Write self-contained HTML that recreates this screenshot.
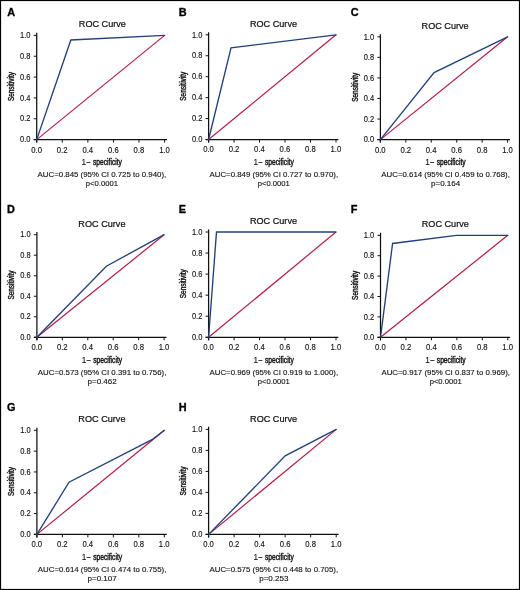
<!DOCTYPE html>
<html><head><meta charset="utf-8"><style>
html,body{margin:0;padding:0;background:#fff;}
svg{display:block;filter:blur(0.25px);}
text{font-family:"Liberation Sans", sans-serif;stroke:#111;stroke-width:0.12px;}
</style></head><body>
<svg width="520" height="590" viewBox="0 0 520 590">
<rect x="0" y="0" width="520" height="590" fill="#fff"/>
<rect x="0.5" y="0.5" width="519" height="589" fill="none" stroke="#000" stroke-width="1.2"/>
<text transform="translate(7.2 16.4) scale(1.05 1.0)" font-size="10.4" font-weight="bold" style="stroke:#000;stroke-width:0.3px" fill="#000">A</text>
<text transform="translate(102.35 27.15) scale(1 1.075)" font-size="9.2" style="stroke-width:0.22px" text-anchor="middle" textLength="47.1" lengthAdjust="spacingAndGlyphs" fill="#111">ROC Curve</text>
<path d="M36.7 32.8V142.6M33.7 139.6H167" stroke="#111" stroke-width="1.25" fill="none"/>
<path d="M33.7 139.6H36.7M36.7 139.6V142.6M33.7 118.76H36.7M62.28 139.6V142.6M33.7 97.92H36.7M87.86 139.6V142.6M33.7 77.08H36.7M113.44 139.6V142.6M33.7 56.24H36.7M139.02 139.6V142.6M33.7 35.4H36.7M164.6 139.6V142.6" stroke="#111" stroke-width="1" fill="none"/>
<text transform="translate(30.4 142.3) scale(1 1.1)" font-size="7.5" text-anchor="end" fill="#111">0.0</text>
<text transform="translate(36.6 152.5) scale(1 1.1)" font-size="7.7" text-anchor="middle" fill="#111">0.0</text>
<text transform="translate(30.4 121.46) scale(1 1.1)" font-size="7.5" text-anchor="end" fill="#111">0.2</text>
<text transform="translate(62.18 152.5) scale(1 1.1)" font-size="7.7" text-anchor="middle" fill="#111">0.2</text>
<text transform="translate(30.4 100.62) scale(1 1.1)" font-size="7.5" text-anchor="end" fill="#111">0.4</text>
<text transform="translate(87.76 152.5) scale(1 1.1)" font-size="7.7" text-anchor="middle" fill="#111">0.4</text>
<text transform="translate(30.4 79.78) scale(1 1.1)" font-size="7.5" text-anchor="end" fill="#111">0.6</text>
<text transform="translate(113.34 152.5) scale(1 1.1)" font-size="7.7" text-anchor="middle" fill="#111">0.6</text>
<text transform="translate(30.4 58.94) scale(1 1.1)" font-size="7.5" text-anchor="end" fill="#111">0.8</text>
<text transform="translate(138.92 152.5) scale(1 1.1)" font-size="7.7" text-anchor="middle" fill="#111">0.8</text>
<text transform="translate(30.4 38.1) scale(1 1.1)" font-size="7.5" text-anchor="end" fill="#111">1.0</text>
<text transform="translate(164.5 152.5) scale(1 1.1)" font-size="7.7" text-anchor="middle" fill="#111">1.0</text>
<text transform="translate(81.5 165) scale(1 1.075)" font-size="8.2" fill="#111">1</text>
<text transform="translate(86.6 165) scale(1 1.075)" font-size="8.2" textLength="3.8" lengthAdjust="spacingAndGlyphs" fill="#111">–</text>
<text transform="translate(93 165) scale(1 1.075)" font-size="8.2" style="stroke-width:0.4px" textLength="28.9" lengthAdjust="spacingAndGlyphs" fill="#111">specificity</text>
<text transform="translate(14.2 86.6) rotate(-90)" font-size="8.2" style="stroke-width:0.4px" text-anchor="middle" textLength="29" lengthAdjust="spacingAndGlyphs" fill="#111">Sensitivity</text>
<path d="M36.7 139.6L164.6 35.4" stroke="#b41c44" stroke-width="1.2" fill="none"/>
<path d="M36.7 139.6L70.85 39.98L164.6 35.4" stroke="#23417a" stroke-width="1.35" fill="none" stroke-linecap="round"/>
<text transform="translate(101.9 176.8) scale(1 1.075)" font-size="7.5" text-anchor="middle" textLength="128.6" lengthAdjust="spacingAndGlyphs" fill="#111">AUC=0.845 (95% CI 0.725 to 0.940),</text>
<text transform="translate(101.9 186.1) scale(1 1.075)" font-size="7.5" text-anchor="middle" textLength="32.1" lengthAdjust="spacingAndGlyphs" fill="#111">p&lt;0.0001</text>
<text transform="translate(178.8 16.4) scale(1.05 1.0)" font-size="10.4" font-weight="bold" style="stroke:#000;stroke-width:0.3px" fill="#000">B</text>
<text transform="translate(273.45 27) scale(1 1.075)" font-size="9.2" style="stroke-width:0.22px" text-anchor="middle" textLength="47.1" lengthAdjust="spacingAndGlyphs" fill="#111">ROC Curve</text>
<path d="M208.6 32.2V142.5M205.6 139.5H338.4" stroke="#111" stroke-width="1.25" fill="none"/>
<path d="M205.6 139.5H208.6M208.6 139.5V142.5M205.6 118.56H208.6M234.08 139.5V142.5M205.6 97.62H208.6M259.56 139.5V142.5M205.6 76.68H208.6M285.04 139.5V142.5M205.6 55.74H208.6M310.52 139.5V142.5M205.6 34.8H208.6M336 139.5V142.5" stroke="#111" stroke-width="1" fill="none"/>
<text transform="translate(202.3 142.2) scale(1 1.1)" font-size="7.5" text-anchor="end" fill="#111">0.0</text>
<text transform="translate(208.5 152.4) scale(1 1.1)" font-size="7.7" text-anchor="middle" fill="#111">0.0</text>
<text transform="translate(202.3 121.26) scale(1 1.1)" font-size="7.5" text-anchor="end" fill="#111">0.2</text>
<text transform="translate(233.98 152.4) scale(1 1.1)" font-size="7.7" text-anchor="middle" fill="#111">0.2</text>
<text transform="translate(202.3 100.32) scale(1 1.1)" font-size="7.5" text-anchor="end" fill="#111">0.4</text>
<text transform="translate(259.46 152.4) scale(1 1.1)" font-size="7.7" text-anchor="middle" fill="#111">0.4</text>
<text transform="translate(202.3 79.38) scale(1 1.1)" font-size="7.5" text-anchor="end" fill="#111">0.6</text>
<text transform="translate(284.94 152.4) scale(1 1.1)" font-size="7.7" text-anchor="middle" fill="#111">0.6</text>
<text transform="translate(202.3 58.44) scale(1 1.1)" font-size="7.5" text-anchor="end" fill="#111">0.8</text>
<text transform="translate(310.42 152.4) scale(1 1.1)" font-size="7.7" text-anchor="middle" fill="#111">0.8</text>
<text transform="translate(202.3 37.5) scale(1 1.1)" font-size="7.5" text-anchor="end" fill="#111">1.0</text>
<text transform="translate(335.9 152.4) scale(1 1.1)" font-size="7.7" text-anchor="middle" fill="#111">1.0</text>
<text transform="translate(253.4 164.9) scale(1 1.075)" font-size="8.2" fill="#111">1</text>
<text transform="translate(258.5 164.9) scale(1 1.075)" font-size="8.2" textLength="3.8" lengthAdjust="spacingAndGlyphs" fill="#111">–</text>
<text transform="translate(264.9 164.9) scale(1 1.075)" font-size="8.2" style="stroke-width:0.4px" textLength="28.9" lengthAdjust="spacingAndGlyphs" fill="#111">specificity</text>
<text transform="translate(186.1 86.25) rotate(-90)" font-size="8.2" style="stroke-width:0.4px" text-anchor="middle" textLength="29" lengthAdjust="spacingAndGlyphs" fill="#111">Sensitivity</text>
<path d="M208.6 139.5L336 34.8" stroke="#b41c44" stroke-width="1.2" fill="none"/>
<path d="M208.6 139.5L231.02 47.78L336 34.8" stroke="#23417a" stroke-width="1.35" fill="none" stroke-linecap="round"/>
<text transform="translate(273.8 176.7) scale(1 1.075)" font-size="7.5" text-anchor="middle" textLength="128.6" lengthAdjust="spacingAndGlyphs" fill="#111">AUC=0.849 (95% CI 0.727 to 0.970),</text>
<text transform="translate(273.8 186) scale(1 1.075)" font-size="7.5" text-anchor="middle" textLength="32.1" lengthAdjust="spacingAndGlyphs" fill="#111">p&lt;0.0001</text>
<text transform="translate(350.8 16.4) scale(1.05 1.0)" font-size="10.4" font-weight="bold" style="stroke:#000;stroke-width:0.3px" fill="#000">C</text>
<text transform="translate(445.1 28.5) scale(1 1.075)" font-size="9.2" style="stroke-width:0.22px" text-anchor="middle" textLength="47.1" lengthAdjust="spacingAndGlyphs" fill="#111">ROC Curve</text>
<path d="M380.4 34.2V142.6M377.4 139.6H510" stroke="#111" stroke-width="1.25" fill="none"/>
<path d="M377.4 139.6H380.4M380.4 139.6V142.6M377.4 119.04H380.4M405.84 139.6V142.6M377.4 98.48H380.4M431.28 139.6V142.6M377.4 77.92H380.4M456.72 139.6V142.6M377.4 57.36H380.4M482.16 139.6V142.6M377.4 36.8H380.4M507.6 139.6V142.6" stroke="#111" stroke-width="1" fill="none"/>
<text transform="translate(374.1 142.3) scale(1 1.1)" font-size="7.5" text-anchor="end" fill="#111">0.0</text>
<text transform="translate(380.3 152.5) scale(1 1.1)" font-size="7.7" text-anchor="middle" fill="#111">0.0</text>
<text transform="translate(374.1 121.74) scale(1 1.1)" font-size="7.5" text-anchor="end" fill="#111">0.2</text>
<text transform="translate(405.74 152.5) scale(1 1.1)" font-size="7.7" text-anchor="middle" fill="#111">0.2</text>
<text transform="translate(374.1 101.18) scale(1 1.1)" font-size="7.5" text-anchor="end" fill="#111">0.4</text>
<text transform="translate(431.18 152.5) scale(1 1.1)" font-size="7.7" text-anchor="middle" fill="#111">0.4</text>
<text transform="translate(374.1 80.62) scale(1 1.1)" font-size="7.5" text-anchor="end" fill="#111">0.6</text>
<text transform="translate(456.62 152.5) scale(1 1.1)" font-size="7.7" text-anchor="middle" fill="#111">0.6</text>
<text transform="translate(374.1 60.06) scale(1 1.1)" font-size="7.5" text-anchor="end" fill="#111">0.8</text>
<text transform="translate(482.06 152.5) scale(1 1.1)" font-size="7.7" text-anchor="middle" fill="#111">0.8</text>
<text transform="translate(374.1 39.5) scale(1 1.1)" font-size="7.5" text-anchor="end" fill="#111">1.0</text>
<text transform="translate(507.5 152.5) scale(1 1.1)" font-size="7.7" text-anchor="middle" fill="#111">1.0</text>
<text transform="translate(425.2 165) scale(1 1.075)" font-size="8.2" fill="#111">1</text>
<text transform="translate(430.3 165) scale(1 1.075)" font-size="8.2" textLength="3.8" lengthAdjust="spacingAndGlyphs" fill="#111">–</text>
<text transform="translate(436.7 165) scale(1 1.075)" font-size="8.2" style="stroke-width:0.4px" textLength="28.9" lengthAdjust="spacingAndGlyphs" fill="#111">specificity</text>
<text transform="translate(357.9 87.3) rotate(-90)" font-size="8.2" style="stroke-width:0.4px" text-anchor="middle" textLength="29" lengthAdjust="spacingAndGlyphs" fill="#111">Sensitivity</text>
<path d="M380.4 139.6L507.6 36.8" stroke="#b41c44" stroke-width="1.2" fill="none"/>
<path d="M380.4 139.6L434.08 72.57L507.6 36.8" stroke="#23417a" stroke-width="1.35" fill="none" stroke-linecap="round"/>
<text transform="translate(445.6 176.8) scale(1 1.075)" font-size="7.5" text-anchor="middle" textLength="128.6" lengthAdjust="spacingAndGlyphs" fill="#111">AUC=0.614 (95% CI 0.459 to 0.768),</text>
<text transform="translate(445.6 186.1) scale(1 1.075)" font-size="7.5" text-anchor="middle" textLength="29.2" lengthAdjust="spacingAndGlyphs" fill="#111">p=0.164</text>
<text transform="translate(7 213.2) scale(1.05 1.0)" font-size="10.4" font-weight="bold" style="stroke:#000;stroke-width:0.3px" fill="#000">D</text>
<text transform="translate(101.9 226.8) scale(1 1.075)" font-size="9.2" style="stroke-width:0.22px" text-anchor="middle" textLength="47.1" lengthAdjust="spacingAndGlyphs" fill="#111">ROC Curve</text>
<path d="M36.9 232.1V340.3M33.9 337.3H166.5" stroke="#111" stroke-width="1.25" fill="none"/>
<path d="M33.9 337.3H36.9M36.9 337.3V340.3M33.9 316.78H36.9M62.34 337.3V340.3M33.9 296.26H36.9M87.78 337.3V340.3M33.9 275.74H36.9M113.22 337.3V340.3M33.9 255.22H36.9M138.66 337.3V340.3M33.9 234.7H36.9M164.1 337.3V340.3" stroke="#111" stroke-width="1" fill="none"/>
<text transform="translate(30.6 340) scale(1 1.1)" font-size="7.5" text-anchor="end" fill="#111">0.0</text>
<text transform="translate(36.8 350.2) scale(1 1.1)" font-size="7.7" text-anchor="middle" fill="#111">0.0</text>
<text transform="translate(30.6 319.48) scale(1 1.1)" font-size="7.5" text-anchor="end" fill="#111">0.2</text>
<text transform="translate(62.24 350.2) scale(1 1.1)" font-size="7.7" text-anchor="middle" fill="#111">0.2</text>
<text transform="translate(30.6 298.96) scale(1 1.1)" font-size="7.5" text-anchor="end" fill="#111">0.4</text>
<text transform="translate(87.68 350.2) scale(1 1.1)" font-size="7.7" text-anchor="middle" fill="#111">0.4</text>
<text transform="translate(30.6 278.44) scale(1 1.1)" font-size="7.5" text-anchor="end" fill="#111">0.6</text>
<text transform="translate(113.12 350.2) scale(1 1.1)" font-size="7.7" text-anchor="middle" fill="#111">0.6</text>
<text transform="translate(30.6 257.92) scale(1 1.1)" font-size="7.5" text-anchor="end" fill="#111">0.8</text>
<text transform="translate(138.56 350.2) scale(1 1.1)" font-size="7.7" text-anchor="middle" fill="#111">0.8</text>
<text transform="translate(30.6 237.4) scale(1 1.1)" font-size="7.5" text-anchor="end" fill="#111">1.0</text>
<text transform="translate(164 350.2) scale(1 1.1)" font-size="7.7" text-anchor="middle" fill="#111">1.0</text>
<text transform="translate(81.7 362.7) scale(1 1.075)" font-size="8.2" fill="#111">1</text>
<text transform="translate(86.8 362.7) scale(1 1.075)" font-size="8.2" textLength="3.8" lengthAdjust="spacingAndGlyphs" fill="#111">–</text>
<text transform="translate(93.2 362.7) scale(1 1.075)" font-size="8.2" style="stroke-width:0.4px" textLength="28.9" lengthAdjust="spacingAndGlyphs" fill="#111">specificity</text>
<text transform="translate(14.4 285.1) rotate(-90)" font-size="8.2" style="stroke-width:0.4px" text-anchor="middle" textLength="29" lengthAdjust="spacingAndGlyphs" fill="#111">Sensitivity</text>
<path d="M36.9 337.3L164.1 234.7" stroke="#b41c44" stroke-width="1.2" fill="none"/>
<path d="M36.9 337.3L106.35 266.2L164.1 234.7" stroke="#23417a" stroke-width="1.35" fill="none" stroke-linecap="round"/>
<text transform="translate(102.1 374.5) scale(1 1.075)" font-size="7.5" text-anchor="middle" textLength="128.6" lengthAdjust="spacingAndGlyphs" fill="#111">AUC=0.573 (95% CI 0.391 to 0.756),</text>
<text transform="translate(102.1 383.8) scale(1 1.075)" font-size="7.5" text-anchor="middle" textLength="29.2" lengthAdjust="spacingAndGlyphs" fill="#111">p=0.462</text>
<text transform="translate(178.8 213.2) scale(1.05 1.0)" font-size="10.4" font-weight="bold" style="stroke:#000;stroke-width:0.3px" fill="#000">E</text>
<text transform="translate(273.45 223.6) scale(1 1.075)" font-size="9.2" style="stroke-width:0.22px" text-anchor="middle" textLength="47.1" lengthAdjust="spacingAndGlyphs" fill="#111">ROC Curve</text>
<path d="M208.6 229.4V340.3M205.6 337.3H338.4" stroke="#111" stroke-width="1.25" fill="none"/>
<path d="M205.6 337.3H208.6M208.6 337.3V340.3M205.6 316.24H208.6M234.08 337.3V340.3M205.6 295.18H208.6M259.56 337.3V340.3M205.6 274.12H208.6M285.04 337.3V340.3M205.6 253.06H208.6M310.52 337.3V340.3M205.6 232H208.6M336 337.3V340.3" stroke="#111" stroke-width="1" fill="none"/>
<text transform="translate(202.3 340) scale(1 1.1)" font-size="7.5" text-anchor="end" fill="#111">0.0</text>
<text transform="translate(208.5 350.2) scale(1 1.1)" font-size="7.7" text-anchor="middle" fill="#111">0.0</text>
<text transform="translate(202.3 318.94) scale(1 1.1)" font-size="7.5" text-anchor="end" fill="#111">0.2</text>
<text transform="translate(233.98 350.2) scale(1 1.1)" font-size="7.7" text-anchor="middle" fill="#111">0.2</text>
<text transform="translate(202.3 297.88) scale(1 1.1)" font-size="7.5" text-anchor="end" fill="#111">0.4</text>
<text transform="translate(259.46 350.2) scale(1 1.1)" font-size="7.7" text-anchor="middle" fill="#111">0.4</text>
<text transform="translate(202.3 276.82) scale(1 1.1)" font-size="7.5" text-anchor="end" fill="#111">0.6</text>
<text transform="translate(284.94 350.2) scale(1 1.1)" font-size="7.7" text-anchor="middle" fill="#111">0.6</text>
<text transform="translate(202.3 255.76) scale(1 1.1)" font-size="7.5" text-anchor="end" fill="#111">0.8</text>
<text transform="translate(310.42 350.2) scale(1 1.1)" font-size="7.7" text-anchor="middle" fill="#111">0.8</text>
<text transform="translate(202.3 234.7) scale(1 1.1)" font-size="7.5" text-anchor="end" fill="#111">1.0</text>
<text transform="translate(335.9 350.2) scale(1 1.1)" font-size="7.7" text-anchor="middle" fill="#111">1.0</text>
<text transform="translate(253.4 362.7) scale(1 1.075)" font-size="8.2" fill="#111">1</text>
<text transform="translate(258.5 362.7) scale(1 1.075)" font-size="8.2" textLength="3.8" lengthAdjust="spacingAndGlyphs" fill="#111">–</text>
<text transform="translate(264.9 362.7) scale(1 1.075)" font-size="8.2" style="stroke-width:0.4px" textLength="28.9" lengthAdjust="spacingAndGlyphs" fill="#111">specificity</text>
<text transform="translate(186.1 283.75) rotate(-90)" font-size="8.2" style="stroke-width:0.4px" text-anchor="middle" textLength="29" lengthAdjust="spacingAndGlyphs" fill="#111">Sensitivity</text>
<path d="M208.6 337.3L336 232" stroke="#b41c44" stroke-width="1.2" fill="none"/>
<path d="M208.6 337.3L216.5 232L336 232" stroke="#23417a" stroke-width="1.35" fill="none" stroke-linecap="round"/>
<text transform="translate(273.8 374.5) scale(1 1.075)" font-size="7.5" text-anchor="middle" textLength="128.6" lengthAdjust="spacingAndGlyphs" fill="#111">AUC=0.969 (95% CI 0.919 to 1.000),</text>
<text transform="translate(273.8 383.8) scale(1 1.075)" font-size="7.5" text-anchor="middle" textLength="32.1" lengthAdjust="spacingAndGlyphs" fill="#111">p&lt;0.0001</text>
<text transform="translate(350.7 213.2) scale(1.05 1.0)" font-size="10.4" font-weight="bold" style="stroke:#000;stroke-width:0.3px" fill="#000">F</text>
<text transform="translate(445.3 227) scale(1 1.075)" font-size="9.2" style="stroke-width:0.22px" text-anchor="middle" textLength="47.1" lengthAdjust="spacingAndGlyphs" fill="#111">ROC Curve</text>
<path d="M380.5 232.7V340.3M377.5 337.3H510.2" stroke="#111" stroke-width="1.25" fill="none"/>
<path d="M377.5 337.3H380.5M380.5 337.3V340.3M377.5 316.9H380.5M405.96 337.3V340.3M377.5 296.5H380.5M431.42 337.3V340.3M377.5 276.1H380.5M456.88 337.3V340.3M377.5 255.7H380.5M482.34 337.3V340.3M377.5 235.3H380.5M507.8 337.3V340.3" stroke="#111" stroke-width="1" fill="none"/>
<text transform="translate(374.2 340) scale(1 1.1)" font-size="7.5" text-anchor="end" fill="#111">0.0</text>
<text transform="translate(380.4 350.2) scale(1 1.1)" font-size="7.7" text-anchor="middle" fill="#111">0.0</text>
<text transform="translate(374.2 319.6) scale(1 1.1)" font-size="7.5" text-anchor="end" fill="#111">0.2</text>
<text transform="translate(405.86 350.2) scale(1 1.1)" font-size="7.7" text-anchor="middle" fill="#111">0.2</text>
<text transform="translate(374.2 299.2) scale(1 1.1)" font-size="7.5" text-anchor="end" fill="#111">0.4</text>
<text transform="translate(431.32 350.2) scale(1 1.1)" font-size="7.7" text-anchor="middle" fill="#111">0.4</text>
<text transform="translate(374.2 278.8) scale(1 1.1)" font-size="7.5" text-anchor="end" fill="#111">0.6</text>
<text transform="translate(456.78 350.2) scale(1 1.1)" font-size="7.7" text-anchor="middle" fill="#111">0.6</text>
<text transform="translate(374.2 258.4) scale(1 1.1)" font-size="7.5" text-anchor="end" fill="#111">0.8</text>
<text transform="translate(482.24 350.2) scale(1 1.1)" font-size="7.7" text-anchor="middle" fill="#111">0.8</text>
<text transform="translate(374.2 238) scale(1 1.1)" font-size="7.5" text-anchor="end" fill="#111">1.0</text>
<text transform="translate(507.7 350.2) scale(1 1.1)" font-size="7.7" text-anchor="middle" fill="#111">1.0</text>
<text transform="translate(425.3 362.7) scale(1 1.075)" font-size="8.2" fill="#111">1</text>
<text transform="translate(430.4 362.7) scale(1 1.075)" font-size="8.2" textLength="3.8" lengthAdjust="spacingAndGlyphs" fill="#111">–</text>
<text transform="translate(436.8 362.7) scale(1 1.075)" font-size="8.2" style="stroke-width:0.4px" textLength="28.9" lengthAdjust="spacingAndGlyphs" fill="#111">specificity</text>
<text transform="translate(358 285.4) rotate(-90)" font-size="8.2" style="stroke-width:0.4px" text-anchor="middle" textLength="29" lengthAdjust="spacingAndGlyphs" fill="#111">Sensitivity</text>
<path d="M380.5 337.3L507.8 235.3" stroke="#b41c44" stroke-width="1.2" fill="none"/>
<path d="M380.5 337.3L392.59 243.46L456.37 235.3L507.8 235.3" stroke="#23417a" stroke-width="1.35" fill="none" stroke-linecap="round"/>
<text transform="translate(445.7 374.5) scale(1 1.075)" font-size="7.5" text-anchor="middle" textLength="128.6" lengthAdjust="spacingAndGlyphs" fill="#111">AUC=0.917 (95% CI 0.837 to 0.969),</text>
<text transform="translate(445.7 383.8) scale(1 1.075)" font-size="7.5" text-anchor="middle" textLength="32.1" lengthAdjust="spacingAndGlyphs" fill="#111">p&lt;0.0001</text>
<text transform="translate(7.07 410.8) scale(1.05 1.0)" font-size="10.4" font-weight="bold" style="stroke:#000;stroke-width:0.3px" fill="#000">G</text>
<text transform="translate(101.9 422.1) scale(1 1.075)" font-size="9.2" style="stroke-width:0.22px" text-anchor="middle" textLength="47.1" lengthAdjust="spacingAndGlyphs" fill="#111">ROC Curve</text>
<path d="M36.9 427.7V537.4M33.9 534.4H166.7" stroke="#111" stroke-width="1.25" fill="none"/>
<path d="M33.9 534.4H36.9M36.9 534.4V537.4M33.9 513.58H36.9M62.38 534.4V537.4M33.9 492.76H36.9M87.86 534.4V537.4M33.9 471.94H36.9M113.34 534.4V537.4M33.9 451.12H36.9M138.82 534.4V537.4M33.9 430.3H36.9M164.3 534.4V537.4" stroke="#111" stroke-width="1" fill="none"/>
<text transform="translate(30.6 537.1) scale(1 1.1)" font-size="7.5" text-anchor="end" fill="#111">0.0</text>
<text transform="translate(36.8 547.3) scale(1 1.1)" font-size="7.7" text-anchor="middle" fill="#111">0.0</text>
<text transform="translate(30.6 516.28) scale(1 1.1)" font-size="7.5" text-anchor="end" fill="#111">0.2</text>
<text transform="translate(62.28 547.3) scale(1 1.1)" font-size="7.7" text-anchor="middle" fill="#111">0.2</text>
<text transform="translate(30.6 495.46) scale(1 1.1)" font-size="7.5" text-anchor="end" fill="#111">0.4</text>
<text transform="translate(87.76 547.3) scale(1 1.1)" font-size="7.7" text-anchor="middle" fill="#111">0.4</text>
<text transform="translate(30.6 474.64) scale(1 1.1)" font-size="7.5" text-anchor="end" fill="#111">0.6</text>
<text transform="translate(113.24 547.3) scale(1 1.1)" font-size="7.7" text-anchor="middle" fill="#111">0.6</text>
<text transform="translate(30.6 453.82) scale(1 1.1)" font-size="7.5" text-anchor="end" fill="#111">0.8</text>
<text transform="translate(138.72 547.3) scale(1 1.1)" font-size="7.7" text-anchor="middle" fill="#111">0.8</text>
<text transform="translate(30.6 433) scale(1 1.1)" font-size="7.5" text-anchor="end" fill="#111">1.0</text>
<text transform="translate(164.2 547.3) scale(1 1.1)" font-size="7.7" text-anchor="middle" fill="#111">1.0</text>
<text transform="translate(81.7 559.8) scale(1 1.075)" font-size="8.2" fill="#111">1</text>
<text transform="translate(86.8 559.8) scale(1 1.075)" font-size="8.2" textLength="3.8" lengthAdjust="spacingAndGlyphs" fill="#111">–</text>
<text transform="translate(93.2 559.8) scale(1 1.075)" font-size="8.2" style="stroke-width:0.4px" textLength="28.9" lengthAdjust="spacingAndGlyphs" fill="#111">specificity</text>
<text transform="translate(14.4 481.45) rotate(-90)" font-size="8.2" style="stroke-width:0.4px" text-anchor="middle" textLength="29" lengthAdjust="spacingAndGlyphs" fill="#111">Sensitivity</text>
<path d="M36.9 534.4L164.3 430.3" stroke="#b41c44" stroke-width="1.2" fill="none"/>
<path d="M36.9 534.4L69 482.25L152.45 439.46L164.3 430.3" stroke="#23417a" stroke-width="1.35" fill="none" stroke-linecap="round"/>
<text transform="translate(102.1 571.6) scale(1 1.075)" font-size="7.5" text-anchor="middle" textLength="128.6" lengthAdjust="spacingAndGlyphs" fill="#111">AUC=0.614 (95% CI 0.474 to 0.755),</text>
<text transform="translate(102.1 580.9) scale(1 1.075)" font-size="7.5" text-anchor="middle" textLength="29.2" lengthAdjust="spacingAndGlyphs" fill="#111">p=0.107</text>
<text transform="translate(178.8 410.8) scale(1.05 1.0)" font-size="10.4" font-weight="bold" style="stroke:#000;stroke-width:0.3px" fill="#000">H</text>
<text transform="translate(273.6 421.5) scale(1 1.075)" font-size="9.2" style="stroke-width:0.22px" text-anchor="middle" textLength="47.1" lengthAdjust="spacingAndGlyphs" fill="#111">ROC Curve</text>
<path d="M208.6 426.8V537.4M205.6 534.4H338.6" stroke="#111" stroke-width="1.25" fill="none"/>
<path d="M205.6 534.4H208.6M208.6 534.4V537.4M205.6 513.4H208.6M234.12 534.4V537.4M205.6 492.4H208.6M259.64 534.4V537.4M205.6 471.4H208.6M285.16 534.4V537.4M205.6 450.4H208.6M310.68 534.4V537.4M205.6 429.4H208.6M336.2 534.4V537.4" stroke="#111" stroke-width="1" fill="none"/>
<text transform="translate(202.3 537.1) scale(1 1.1)" font-size="7.5" text-anchor="end" fill="#111">0.0</text>
<text transform="translate(208.5 547.3) scale(1 1.1)" font-size="7.7" text-anchor="middle" fill="#111">0.0</text>
<text transform="translate(202.3 516.1) scale(1 1.1)" font-size="7.5" text-anchor="end" fill="#111">0.2</text>
<text transform="translate(234.02 547.3) scale(1 1.1)" font-size="7.7" text-anchor="middle" fill="#111">0.2</text>
<text transform="translate(202.3 495.1) scale(1 1.1)" font-size="7.5" text-anchor="end" fill="#111">0.4</text>
<text transform="translate(259.54 547.3) scale(1 1.1)" font-size="7.7" text-anchor="middle" fill="#111">0.4</text>
<text transform="translate(202.3 474.1) scale(1 1.1)" font-size="7.5" text-anchor="end" fill="#111">0.6</text>
<text transform="translate(285.06 547.3) scale(1 1.1)" font-size="7.7" text-anchor="middle" fill="#111">0.6</text>
<text transform="translate(202.3 453.1) scale(1 1.1)" font-size="7.5" text-anchor="end" fill="#111">0.8</text>
<text transform="translate(310.58 547.3) scale(1 1.1)" font-size="7.7" text-anchor="middle" fill="#111">0.8</text>
<text transform="translate(202.3 432.1) scale(1 1.1)" font-size="7.5" text-anchor="end" fill="#111">1.0</text>
<text transform="translate(336.1 547.3) scale(1 1.1)" font-size="7.7" text-anchor="middle" fill="#111">1.0</text>
<text transform="translate(253.4 559.8) scale(1 1.075)" font-size="8.2" fill="#111">1</text>
<text transform="translate(258.5 559.8) scale(1 1.075)" font-size="8.2" textLength="3.8" lengthAdjust="spacingAndGlyphs" fill="#111">–</text>
<text transform="translate(264.9 559.8) scale(1 1.075)" font-size="8.2" style="stroke-width:0.4px" textLength="28.9" lengthAdjust="spacingAndGlyphs" fill="#111">specificity</text>
<text transform="translate(186.1 481) rotate(-90)" font-size="8.2" style="stroke-width:0.4px" text-anchor="middle" textLength="29" lengthAdjust="spacingAndGlyphs" fill="#111">Sensitivity</text>
<path d="M208.6 534.4L336.2 429.4" stroke="#b41c44" stroke-width="1.2" fill="none"/>
<path d="M208.6 534.4L285.16 455.86L336.2 429.4" stroke="#23417a" stroke-width="1.35" fill="none" stroke-linecap="round"/>
<text transform="translate(273.8 571.6) scale(1 1.075)" font-size="7.5" text-anchor="middle" textLength="128.6" lengthAdjust="spacingAndGlyphs" fill="#111">AUC=0.575 (95% CI 0.448 to 0.705),</text>
<text transform="translate(273.8 580.9) scale(1 1.075)" font-size="7.5" text-anchor="middle" textLength="29.2" lengthAdjust="spacingAndGlyphs" fill="#111">p=0.253</text>
</svg>
</body></html>
